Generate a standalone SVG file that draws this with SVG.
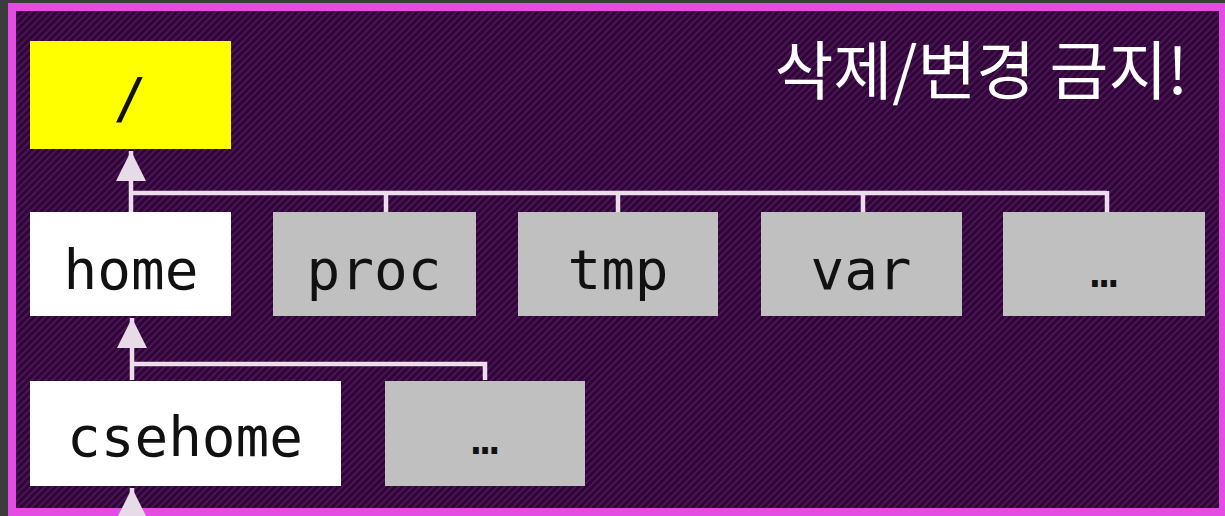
<svg xmlns="http://www.w3.org/2000/svg" width="1225" height="516" viewBox="0 0 1225 516">
  <defs>
    <pattern id="hatch" width="5" height="5" patternUnits="userSpaceOnUse" patternTransform="rotate(45)">
      <rect width="5" height="5" fill="#2c0634"/>
      <rect width="2" height="5" fill="#4e1258"/>
    </pattern>
    <marker id="arr" viewBox="0 0 10 10" refX="10" refY="5" markerWidth="6.7" markerHeight="6.7" orient="auto" markerUnits="strokeWidth">
      <path d="M0,0 L10,5 L0,10 Z" fill="#e6dbe6"/>
    </marker>
    <style>
      .box { stroke: none; }
      .lbl { font-family: "DejaVu Sans Mono", "Liberation Mono", monospace; font-size: 56px; fill: #111111; text-anchor: middle; }
      .dots { font-size: 46px; }
      .con { fill: none; stroke: #ecdcec; stroke-width: 4.5; }
      .title { font-family: "Noto Sans CJK KR", "Noto Sans", sans-serif; font-size: 64px; font-weight: 400; fill: #ffffff; text-anchor: end; }
    </style>
  </defs>
  <rect x="0" y="0" width="1225" height="516" fill="#3c3c3c"/>
  <rect x="12" y="7" width="1211" height="505" fill="url(#hatch)" stroke="#e44ce4" stroke-width="8"/>

  <text class="title" x="1188" y="94">삭제/변경 금지!</text>

  <g id="connectors">
    <line class="con" x1="131" y1="212" x2="131" y2="151" marker-end="url(#arr)"/>
    <polyline class="con" points="131,193 1107,193"/>
    <line class="con" x1="386" y1="193" x2="386" y2="212"/>
    <line class="con" x1="618" y1="193" x2="618" y2="212"/>
    <line class="con" x1="863" y1="193" x2="863" y2="212"/>
    <line class="con" x1="1107" y1="191" x2="1107" y2="212"/>
    <line class="con" x1="132" y1="380" x2="132" y2="318" marker-end="url(#arr)"/>
    <polyline class="con" points="132,364 485,364 485,380"/>
    <line class="con" x1="132" y1="520" x2="132" y2="488" marker-end="url(#arr)"/>
  </g>

  <g id="root">
    <rect class="box" x="30" y="41" width="201" height="108" fill="#ffff00"/>
    <text class="lbl" x="130" y="117">/</text>
  </g>
  <g id="home">
    <rect class="box" x="30" y="212" width="201" height="104" fill="#ffffff"/>
    <text class="lbl" x="131" y="289">home</text>
  </g>
  <g id="proc">
    <rect class="box" x="273" y="212" width="203" height="104" fill="#c0c0c0"/>
    <text class="lbl" x="374" y="289">proc</text>
  </g>
  <g id="tmp">
    <rect class="box" x="518" y="212" width="200" height="104" fill="#c0c0c0"/>
    <text class="lbl" x="618" y="289">tmp</text>
  </g>
  <g id="var">
    <rect class="box" x="761" y="212" width="201" height="104" fill="#c0c0c0"/>
    <text class="lbl" x="861" y="289">var</text>
  </g>
  <g id="etc1">
    <rect class="box" x="1003" y="212" width="202" height="104" fill="#c0c0c0"/>
    <text class="lbl dots" x="1104" y="287">…</text>
  </g>
  <g id="csehome">
    <rect class="box" x="30" y="381" width="311" height="105" fill="#ffffff"/>
    <text class="lbl" x="185" y="456">csehome</text>
  </g>
  <g id="etc2">
    <rect class="box" x="385" y="381" width="200" height="105" fill="#c0c0c0"/>
    <text class="lbl dots" x="485" y="454">…</text>
  </g>
</svg>
